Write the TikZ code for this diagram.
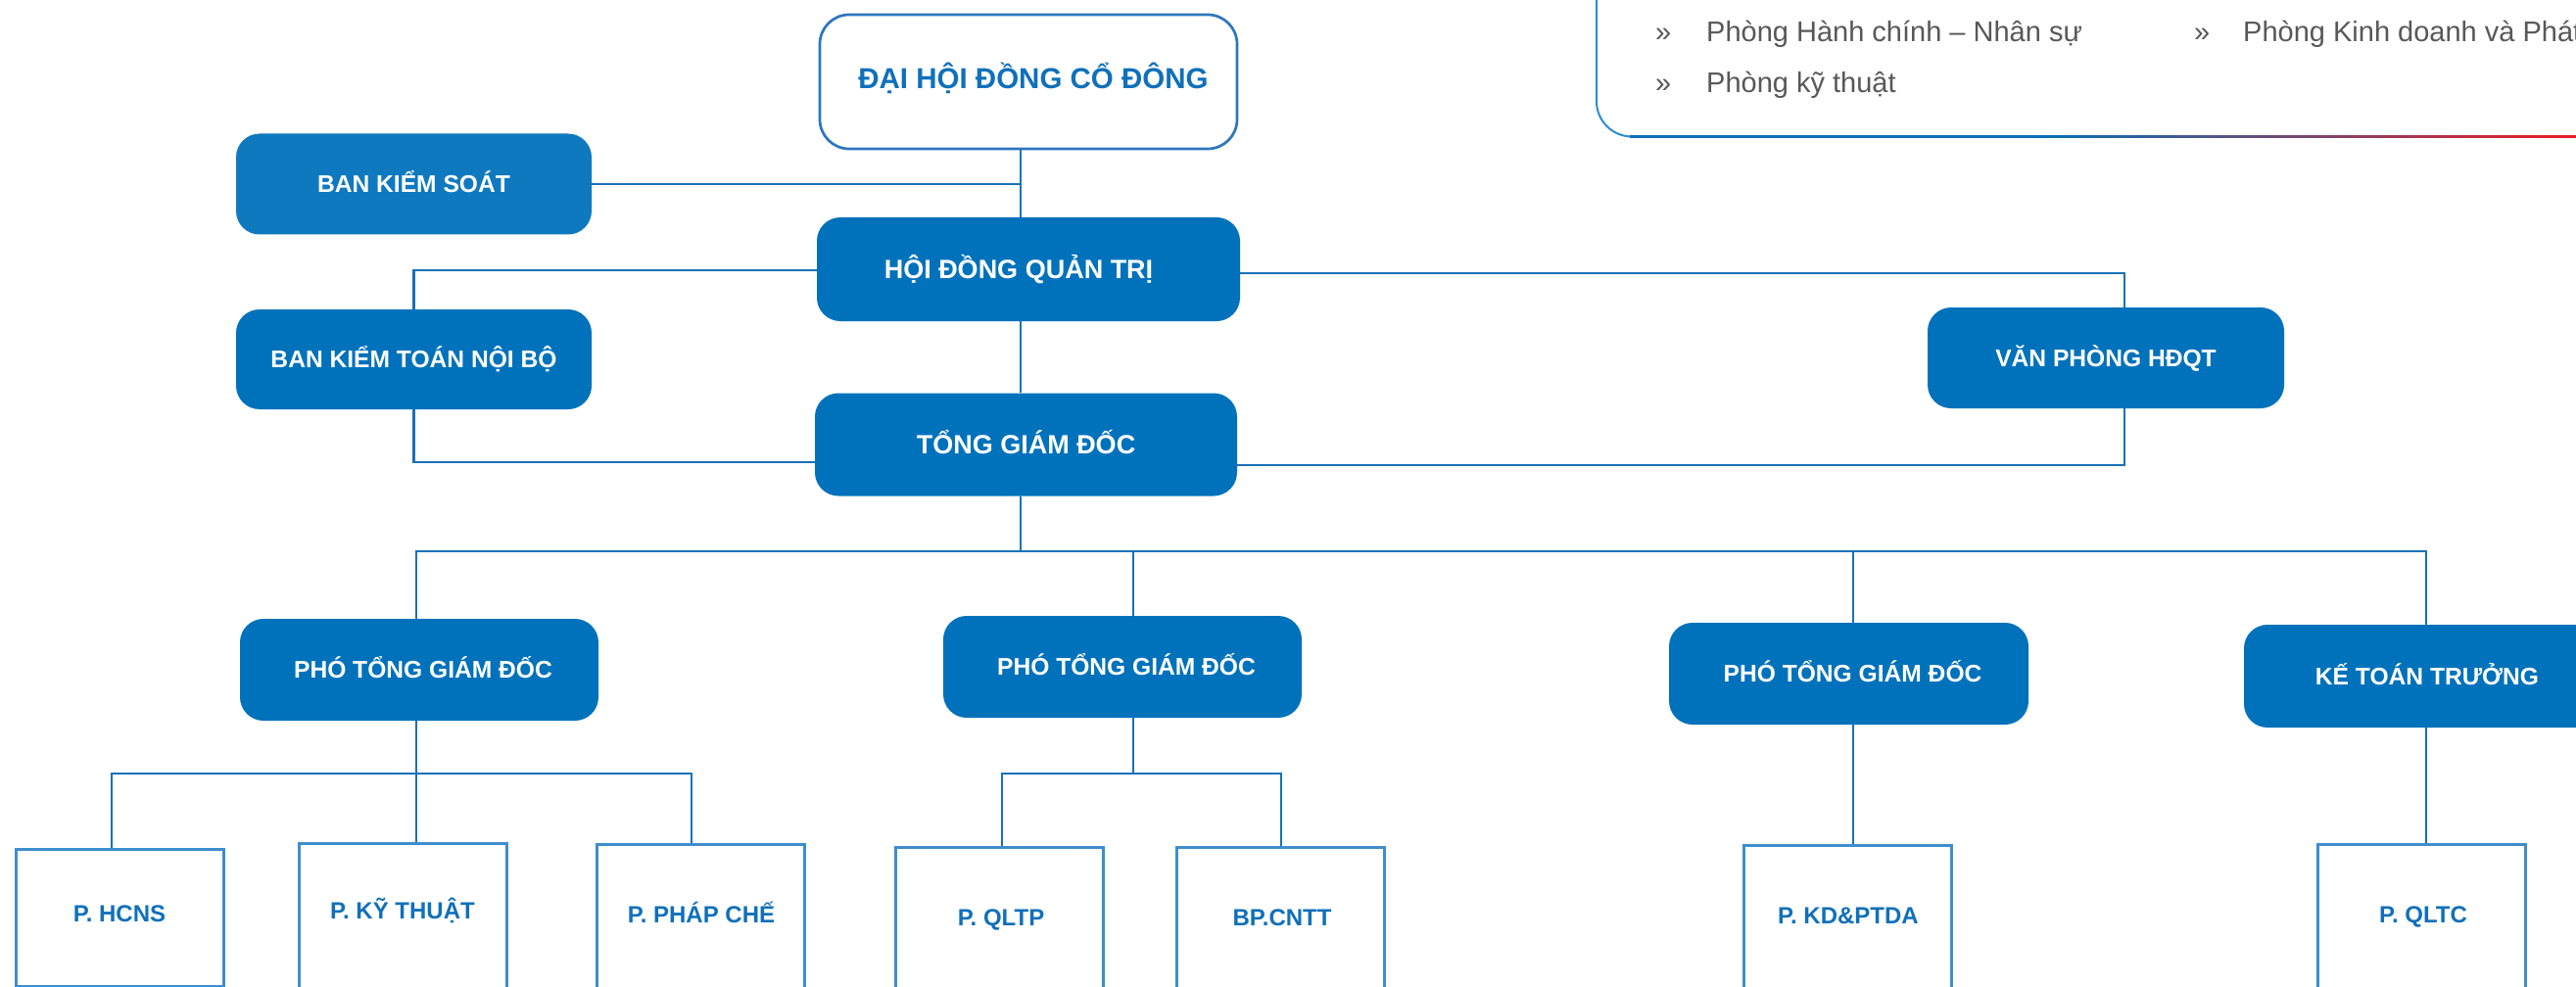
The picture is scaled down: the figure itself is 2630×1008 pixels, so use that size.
\documentclass[tikz,border=0pt]{standalone}
\usepackage{fontspec}
\setmainfont{Liberation Sans}
\usetikzlibrary{calc}

\definecolor{boxblue}{RGB}{0,114,187}
\definecolor{boxblueL}{RGB}{15,121,191}
\definecolor{linkblue}{RGB}{25,113,186}
\definecolor{deptline}{RGB}{62,142,206}
\definecolor{depttext}{RGB}{16,112,186}
\definecolor{dhline}{RGB}{45,118,190}
\definecolor{paneltext}{RGB}{88,88,88}
\definecolor{panelside}{RGB}{45,140,210}
\definecolor{panelred}{RGB}{228,32,40}

\tikzset{
  unitbox/.style={rounded corners=24pt, fill=boxblue, draw=none, text=white,
    inner sep=0pt, font=\fontsize{24.6}{28}\selectfont\bfseries,
    text height=17.6pt, text depth=0pt},
  bigunit/.style={unitbox, font=\fontsize{27}{31}\selectfont\bfseries,
    text height=19.3pt},
  deptbox/.style={draw=deptline, line width=3pt, fill=white, inner sep=0pt,
    minimum width=212pt, anchor=north},
  depttxt/.style={text=depttext, inner sep=0pt,
    font=\fontsize{24}{28}\selectfont\bfseries, text height=17.2pt, text depth=0pt},
  link/.style={draw=linkblue, line width=2.3pt},
  paneltxt/.style={text=paneltext, inner sep=0pt, anchor=base west,
    font=\fontsize{29}{33}\selectfont},
}

\begin{document}
\begin{tikzpicture}[x=1pt, y=-1pt]
\useasboundingbox (0,0) rectangle (2630,1008);
\fill[white] (0,0) rectangle (2630,1008);
\clip (0,0) rectangle (2630,1008);

% list panel in the upper right: light blue side, bottom rule fading from blue to red
\draw[line width=2pt, panelside, rounded corners=36pt] (1630,-10) |- (1720,139.5);
\draw[line width=3pt, boxblue] (1664,139.5) -- (2072,139.5);
\foreach \i in {0,...,53} {
  \pgfmathsetmacro{\pct}{100-\i*100/53}
  \draw[line width=3pt, color=boxblue!\pct!panelred]
    ({2070+\i*10},139.5) -- ({2082+\i*10},139.5);
}
\draw[line width=3pt, panelred] (2600,139.5) -- (2640,139.5);

\node[paneltxt] (b1) at (1690,43) {»};
\node[paneltxt] (t1) at (1742,43) {Phòng Hành chính – Nhân sự};
\node[paneltxt] (b2) at (2240,43) {»};
\node[paneltxt] (t2) at (2290,43) {Phòng Kinh doanh và Phát};
\node[paneltxt] (b3) at (1690,95) {»};
\node[paneltxt] (t3) at (1742,95) {Phòng kỹ thuật};

% governing bodies
\node[draw=dhline, line width=2.7pt, fill=white, rounded corners=30pt,
  minimum width=426pt, minimum height=137pt, inner sep=0pt, text=depttext,
  font=\fontsize{29.5}{33}\selectfont\bfseries, text height=21pt, text depth=7pt]
  (dh) at (1050,83.5) {\hspace*{10pt}ĐẠI HỘI ĐỒNG CỔ ĐÔNG};

\node[unitbox, fill=boxblueL, minimum width=363pt, minimum height=103pt]
  (bks) at (422.5,188) {BAN KIỂM SOÁT};
\node[bigunit, minimum width=432pt, minimum height=106pt]
  (hd) at (1050,275) {HỘI ĐỒNG QUẢN TRỊ\hspace*{20pt}};
\node[unitbox, minimum width=363pt, minimum height=102pt]
  (bktnb) at (422.5,367) {BAN KIỂM TOÁN NỘI BỘ};
\node[unitbox, minimum width=364pt, minimum height=103pt]
  (vp) at (2150,365.5) {VĂN PHÒNG HĐQT};
\node[bigunit, minimum width=431pt, minimum height=105pt]
  (tgd) at (1047.5,454) {TỔNG GIÁM ĐỐC};

% executive level
\node[unitbox, minimum width=366pt, minimum height=104pt]
  (p1) at (428,684) {\hspace*{8pt}PHÓ TỔNG GIÁM ĐỐC};
\node[unitbox, minimum width=366pt, minimum height=104pt]
  (p2) at (1146,681) {\hspace*{8pt}PHÓ TỔNG GIÁM ĐỐC};
\node[unitbox, minimum width=367pt, minimum height=104pt]
  (p3) at (1887.5,688) {\hspace*{8pt}PHÓ TỔNG GIÁM ĐỐC};
\node[unitbox, minimum width=366pt, minimum height=105pt]
  (ktt) at (2474,690.5) {\hspace*{8pt}KẾ TOÁN TRƯỞNG};

% departments
\node[deptbox, minimum height=140pt] (hcns) at (122,866) {};
\node[deptbox, minimum height=175pt] (kt)   at (411,860) {};
\node[deptbox, minimum height=175pt] (pc)   at (715,861) {};
\node[deptbox, minimum height=175pt] (qltp) at (1020,864) {};
\node[deptbox, minimum height=175pt] (cntt) at (1307,864) {};
\node[deptbox, minimum height=175pt] (kd)   at (1886.5,862) {};
\node[deptbox, minimum height=175pt] (qltc) at (2472.5,861) {};

\node[depttxt] (hcnsL) at (122,933)    {P. HCNS};
\node[depttxt] (ktL)   at (411,930)    {P. KỸ THUẬT};
\node[depttxt] (pcL)   at (716,934)    {P. PHÁP CHẾ};
\node[depttxt] (qltpL) at (1022,937)   {P. QLTP};
\node[depttxt] (cnttL) at (1309,937)   {BP.CNTT};
\node[depttxt] (kdL)   at (1887,934.5) {P. KD\&PTDA};
\node[depttxt] (qltcL) at (2474,933.5) {P. QLTC};

% connector guides
\coordinate (xT)  at (1042,0);
\coordinate (xVP) at (2169,0);
\coordinate (xP1) at (425,0);
\coordinate (xP2) at (1157,0);
\coordinate (xP3) at (1892,0);
\coordinate (xKT) at (2477,0);
\coordinate (xA)  at (114,0);
\coordinate (xC)  at (706,0);
\coordinate (xQ)  at (1023,0);
\coordinate (xN)  at (1308,0);
\coordinate (yBus) at (0,563);
\coordinate (ySub) at (0,790);

% connectors
\draw[link] (dh.south -| xT) -- (hd.north -| xT);
\draw[link] (bks.east) -- (bks.east -| xT);
\draw[link] ([yshift=-1pt]hd.west) -| (bktnb.north);
\draw[link] (bktnb.south) |- ([yshift=-18pt]tgd.west);
\draw[link] ([yshift=-4pt]hd.east) -- ([yshift=-4pt]hd.east -| xVP) -- (vp.north -| xVP);
\draw[link] (vp.south -| xVP) |- ([yshift=-21pt]tgd.east);
\draw[link] (hd.south -| xT) -- (tgd.north -| xT);
\draw[link] (tgd.south -| xT) -- (yBus -| xT);

\draw[link] (p1.north -| xP1) |- (yBus -| xKT) -- (ktt.north -| xKT);
\draw[link] (yBus -| xP2) -- (p2.north -| xP2);
\draw[link] (yBus -| xP3) -- (p3.north -| xP3);

\draw[link] (p1.south -| xP1) -- (kt.north -| xP1);
\draw[link] (hcns.north -| xA) |- (ySub -| xC) -- (pc.north -| xC);
\draw[link] (p2.south -| xP2) -- (ySub -| xP2);
\draw[link] (qltp.north -| xQ) |- (ySub -| xN) -- (cntt.north -| xN);
\draw[link] (p3.south -| xP3) -- (kd.north -| xP3);
\draw[link] (ktt.south -| xKT) -- (qltc.north -| xKT);
\end{tikzpicture}
\end{document}
